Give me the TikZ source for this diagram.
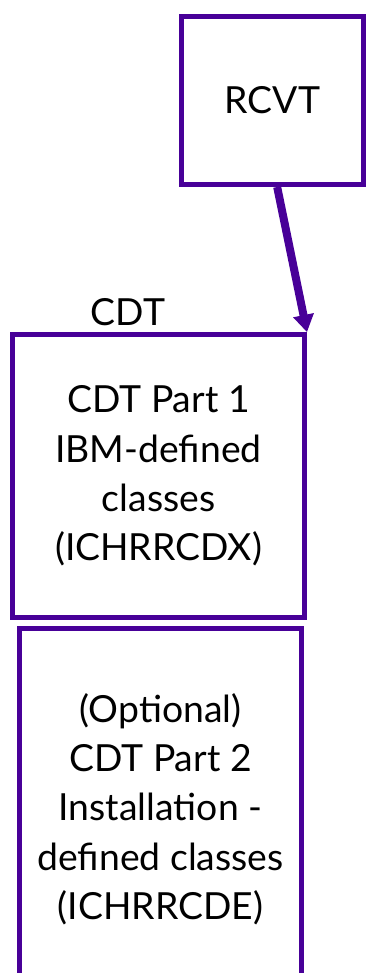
\documentclass[tikz,border=0pt]{standalone}
\usepackage{fontspec}
\setmainfont{Lato}
\usepackage{tikz}
\usetikzlibrary{arrows.meta,positioning,calc}
\definecolor{cdtPurple}{RGB}{72,0,152}

\begin{document}
\begin{tikzpicture}[
  x=0.75pt, y=-0.75pt,
  txt/.style={font=\fontsize{28}{37}\selectfont, align=center, text=black},
  box/.style={txt, draw=cdtPurple, line width=3.75pt, fill=white, inner sep=0pt},
  arr/.style={-{Triangle[length=13pt,width=15pt]}, line width=6pt, draw=cdtPurple}
]
\useasboundingbox (0,0) rectangle (366,973);
\clip (0,0) rectangle (366,973);
\node[box, minimum width=136.5pt, minimum height=126pt] (rcvt) at (272.5,100.5) {RCVT};
\node[box, minimum width=219pt, minimum height=212pt] (part1) at (158.5,476)
  {CDT Part 1\\IBM-defined\\classes\\(ICHRRCDX)};
\node[box, minimum width=211.5pt, minimum height=271pt] (part2) at (160.5,809)
  {(Optional)\\CDT Part 2\\Installation -\\defined classes\\(ICHRRCDE)};
\node[txt] (cdt) at (128,312) {CDT};
\draw[arr] ([xshift=3.5pt]rcvt.south) -- (part1.north east);
\end{tikzpicture}
\end{document}
